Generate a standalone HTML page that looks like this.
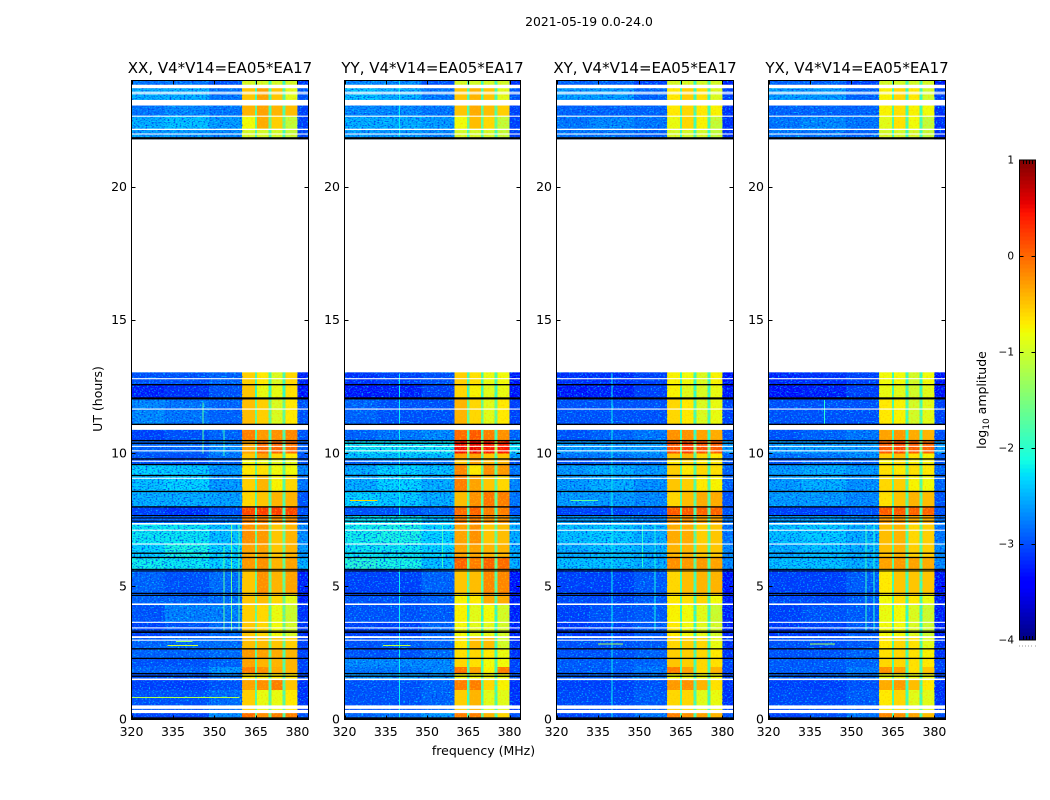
<!DOCTYPE html>
<html>
<head>
<meta charset="utf-8">
<title>2021-05-19 spectrogram</title>
<style>
html,body{margin:0;padding:0;background:#fff;}
#chart{display:block;width:1050px;height:800px;}
text{font-family:"DejaVu Sans","Liberation Sans",sans-serif;fill:#000;}
</style>
</head>
<body>
<svg id="chart" xmlns="http://www.w3.org/2000/svg" width="1050" height="800" viewBox="0 0 1050 800">
<defs>
<filter id="speckle-dark" x="0" y="0" width="1" height="1">
<feTurbulence type="fractalNoise" baseFrequency="0.5 0.75" numOctaves="1" seed="4"/>
<feColorMatrix type="matrix" values="0 0 0 0 0  0 0 0 0 0.05  0 0 0 0 0.85  0 0 0 3.4 -1.6"/>
</filter>
<filter id="speckle-light" x="0" y="0" width="1" height="1">
<feTurbulence type="fractalNoise" baseFrequency="0.55 0.8" numOctaves="1" seed="11"/>
<feColorMatrix type="matrix" values="0 0 0 0 0  0 0 0 0 0.85  0 0 0 0 1  0 0 0 3 -1.55"/>
</filter>
<filter id="speckle-hot" x="0" y="0" width="1" height="1">
<feTurbulence type="fractalNoise" baseFrequency="0.6 0.6" numOctaves="1" seed="7"/>
<feColorMatrix type="matrix" values="0 0 0 0 1  0 0 0 0 0.55  0 0 0 0 0  0 0 0 2 -1"/>
</filter>
</defs>
<text x="589" y="26" font-size="12.4" text-anchor="middle">2021-05-19 0.0-24.0</text>
<text x="483.5" y="755" font-size="12.5" text-anchor="middle">frequency (MHz)</text>
<text transform="translate(102,399) rotate(-90)" font-size="12.5" text-anchor="middle">UT (hours)</text>
<text transform="translate(986,400) rotate(-90)" font-size="12.5" text-anchor="middle">log<tspan font-size="9" dy="3">10</tspan><tspan dy="-3"> amplitude</tspan></text>
<g id="panels"></g>
<g id="colorbar"></g>
</svg>
<script>
// Axis ticks
const xTicks = [320, 335, 350, 365, 380];
const yTicks = [0, 5, 10, 15, 20];
const colorTicks = [1, 0, -1, -2, -3, -4];
const colorTickLabels = ['1', '0', '\u22121', '\u22122', '\u22123', '\u22124'];
const panelTitles = ['XX, V4*V14=EA05*EA17', 'YY, V4*V14=EA05*EA17', 'XY, V4*V14=EA05*EA17', 'YX, V4*V14=EA05*EA17'];

// Frequency column edges (MHz)
const freqEdges = [320, 332, 348, 360, 364.6, 365.4, 369.6, 370.6, 374.6, 375.6, 380, 384];

// Top of each time band (UT hours); each band runs down to the next entry
const bandTops = [24, 23.71, 23.06, 22.66, 22.19, 13.04, 12.58, 12.06, 10.88, 10.47, 10, 9.79, 9.58, 9.17, 8.57, 7.99, 7.66, 7.35, 6.59, 6.09, 5.64, 4.7, 4.33, 3.65, 3.1, 2.66, 2.3, 1.98, 1.73, 1.51, 1.1, 0.25];

// log10 amplitude per band: low1, low2, low3, hot1, hot2, hot3, hot4, notch, edge
const xxValues = [
[-2.8,-2.8,-3,-1,-1,-1,-1,-2,-3.2],[-2.5,-2.5,-2.8,-.5,-.3,-.5,-.9,-1.9,-3],[-2.8,-2.7,-2.8,-.4,-.3,-.4,-.45,-1.8,-3.1],[-2.5,-2.4,-2.6,-.8,-.35,-.55,-1.1,-1.7,-3.1],
[-2.6,-2.6,-2.7,-1,-1,-1,-1.1,-1.9,-3.1],[-3,-3,-2.9,-.55,-.7,-.95,-.6,-1.9,-3.3],[-3.3,-3.2,-3,-.5,-.85,-.85,-.65,-2,-3.4],[-2.7,-2.8,-2.9,-.45,-.55,-.95,-.7,-1.7,-3],
[-3.1,-3,-2.9,-.1,-.25,-.2,-.15,-1.9,-3],[-2.9,-2.9,-2.7,-.3,0,.05,0,-1.9,-2.9],[-3,-3,-2.8,-.5,-.3,-.6,-.7,-1.9,-3],[-3,-3,-2.9,-.8,-.85,-.9,-.9,-2,-3],
[-2.3,-2.35,-2.6,-.7,-.65,-.8,-.8,-1.7,-2.7],[-2.4,-2.3,-2.6,-.55,-.4,-.75,-.6,-1.8,-2.8],[-2.5,-2.5,-2.55,-.6,-.5,-.4,-.4,-1.8,-3],[-3.1,-3.2,-3,.2,.25,.25,.2,-1.9,-3],
[-2.9,-2.9,-2.8,-.1,-.1,-.2,-.2,-1.9,-2.9],[-2.2,-2.2,-2.4,-.2,-.25,-.5,-.4,-1.7,-2.7],[-2.3,-2.1,-2.3,-.3,-.3,-.5,-.4,-1.7,-2.6],[-2.15,-2.2,-2.3,-.25,-.2,-.4,-.3,-1.7,-2.5],
[-2.9,-3,-2.85,-.5,-.2,-.4,-.3,-1.7,-3.3],[-2.9,-2.9,-2.85,-.5,-.45,-.6,-.9,-1.7,-3.3],[-3,-2.75,-2.75,-.55,-.6,-.85,-1.05,-1.7,-3.2],[-3.1,-3,-2.85,-.5,-.6,-.8,-1,-1.7,-3.2],
[-2.9,-2.85,-2.85,-.45,-.45,-.5,-.55,-1.7,-3.1],[-2.9,-2.9,-2.85,-.25,-.3,-.35,-.4,-1.8,-3.1],[-3,-3,-2.9,-.3,-.4,-.4,-.4,-1.8,-3.1],[-2.9,-2.9,-2.65,-.1,-.2,-.35,-.4,-1.8,-3.1],
[-3,-3,-2.8,-.7,-.7,-.7,-.7,-1.8,-3.1],[-3.1,-3.1,-3,-.3,-.2,-.1,-.5,-1.8,-3.2],[-3,-3,-2.85,-.55,-.85,-.85,-.7,-1.8,-3.2],[-3.1,-3.1,-2.7,0,-.2,-.1,-.1,-1.8,-3]];
const yyValues = [
[-2.7,-2.7,-3,-1,-1,-1,-1,-2,-3.2],[-2.4,-2.5,-2.8,-.5,-.4,-.5,-.9,-1.9,-3],[-2.7,-2.7,-2.8,-.5,-.35,-.45,-.55,-1.8,-3.1],[-2.5,-2.5,-2.6,-.8,-.45,-.6,-1.1,-1.7,-3.1],
[-2.6,-2.6,-2.7,-1,-1,-1,-1.1,-1.9,-3.1],[-3.2,-3.1,-3,-.55,-.65,-.85,-.8,-1.9,-3.4],[-3.35,-3.3,-3.1,-.6,-.75,-.9,-.85,-2,-3.4],[-2.9,-3,-3,-.4,-.6,-.9,-.7,-1.7,-3.1],
[-2.9,-2.8,-2.7,0,.1,-.1,-.2,-1.9,-2.9],[-2.2,-2.2,-2.2,.5,.55,.45,.45,-1.3,-2.2],[-2.4,-2.4,-2.4,-.3,-.3,-.5,-.5,-1.8,-2.6],[-2.9,-2.8,-2.8,-.5,-.3,-.4,-.4,-1.9,-3],
[-2.5,-2.3,-2.4,-.15,-.7,-.2,-.25,-1.7,-2.8],[-2.5,-2.3,-2.5,-.1,-.3,-.5,-.6,-1.7,-2.7],[-2.3,-2.35,-2.5,-.45,-.2,-.05,-.1,-1.7,-2.8],[-3,-3,-2.9,0,.05,-.1,-.1,-1.9,-3],
[-2.2,-2.2,-2.4,-.1,-.1,-.2,-.2,-1.8,-2.6],[-2.15,-2.1,-2.3,-.3,-.2,-.5,-.45,-1.7,-2.5],[-2.2,-2.2,-2.3,-.3,-.3,-.4,-.4,-1.7,-2.5],[-2,-2.1,-2.4,.05,-.1,.05,0,-1.7,-2.5],
[-3.1,-3.1,-2.9,-.5,-.45,-.15,-.15,-1.8,-3.4],[-3,-3,-2.9,-.75,-.7,-.35,-.35,-1.9,-3.3],[-3,-3,-2.95,-.75,-.9,-.8,-1,-2,-3.3],[-3.1,-3.1,-2.9,-.8,-.9,-.9,-1,-2,-3.3],
[-3,-2.95,-2.9,-.7,-.45,-.45,-1,-1.9,-3.2],[-3,-3,-2.85,-.65,-.6,-.7,-.85,-1.9,-3.2],[-2.7,-2.7,-2.7,-.6,-.65,-.8,-.8,-1.9,-3.1],[-2.8,-2.8,-2.7,-.05,-.3,-.75,-.1,-1.9,-3.1],
[-2.6,-2.6,-2.6,-.8,-.8,-.8,-.8,-1.9,-3],[-3,-3,-2.9,-.1,-.1,-.6,-.75,-1.9,-3.2],[-3,-3,-2.9,-.55,-.4,-.9,-.9,-1.9,-3.2],[-2.9,-2.8,-2.6,-.1,-.1,-.4,-.6,-1.9,-3]];
const xyValues = [
[-2.9,-2.9,-3.1,-1,-1,-1,-1,-2,-3.3],[-2.6,-2.6,-2.9,-.7,-.55,-.65,-.95,-2,-3.1],[-2.9,-2.9,-2.9,-.7,-.6,-.7,-.75,-1.9,-3.2],[-2.8,-2.7,-2.8,-.85,-.6,-.75,-1.1,-1.9,-3.2],
[-2.8,-2.8,-2.9,-1,-1,-1,-1.1,-2,-3.2],[-3.2,-3.2,-3.1,-.75,-.8,-.95,-.75,-2,-3.4],[-3.35,-3.3,-3.1,-.75,-.9,-.95,-.85,-2,-3.4],[-3,-3,-3,-.6,-.7,-.95,-.85,-1.9,-3.1],
[-3,-2.9,-2.8,-.2,-.2,-.3,-.35,-2,-3],[-2.6,-2.6,-2.6,.15,.25,.15,.1,-1.6,-2.6],[-2.8,-2.8,-2.7,-.5,-.4,-.6,-.7,-1.9,-2.9],[-3,-2.9,-2.9,-.7,-.6,-.7,-.7,-2,-3],
[-2.6,-2.5,-2.6,-.55,-.7,-.6,-.65,-1.8,-2.9],[-2.6,-2.5,-2.65,-.5,-.55,-.7,-.75,-1.8,-2.9],[-2.6,-2.6,-2.7,-.6,-.45,-.35,-.35,-1.8,-3],[-3.1,-3.1,-3,.1,.1,.05,.05,-1.9,-3],
[-2.6,-2.6,-2.7,-.2,-.2,-.3,-.3,-1.9,-2.8],[-2.4,-2.35,-2.5,-.35,-.35,-.55,-.5,-1.8,-2.8],[-2.5,-2.4,-2.5,-.4,-.4,-.5,-.5,-1.8,-2.7],[-2.4,-2.4,-2.5,-.2,-.25,-.25,-.3,-1.8,-2.7],
[-3.1,-3.1,-2.95,-.6,-.45,-.4,-.4,-1.9,-3.4],[-3.05,-3.05,-2.95,-.7,-.65,-.6,-.8,-1.9,-3.3],[-3.1,-3,-2.95,-.75,-.8,-.9,-1.05,-2,-3.3],[-3.15,-3.1,-2.95,-.7,-.8,-.9,-1,-2,-3.3],
[-3,-3,-2.95,-.6,-.55,-.6,-.85,-1.9,-3.2],[-3,-3,-2.9,-.55,-.55,-.6,-.7,-1.9,-3.2],[-2.95,-2.95,-2.9,-.5,-.55,-.6,-.65,-1.9,-3.1],[-2.95,-2.95,-2.8,-.1,-.3,-.6,-.4,-1.9,-3.1],
[-2.9,-2.9,-2.8,-.8,-.8,-.8,-.8,-1.9,-3.1],[-3.1,-3.1,-3,-.25,-.2,-.4,-.65,-1.9,-3.2],[-3.05,-3.05,-2.95,-.6,-.6,-.9,-.85,-1.9,-3.2],[-3.1,-3,-2.8,-.1,-.2,-.3,-.4,-1.9,-3]];
const yxValues = [
[-2.9,-2.9,-3.1,-1,-1,-1,-1,-2,-3.3],[-2.6,-2.6,-2.9,-.75,-.6,-.7,-1,-2,-3.1],[-2.9,-2.9,-2.9,-.75,-.65,-.75,-.8,-1.9,-3.2],[-2.8,-2.7,-2.8,-.9,-.65,-.8,-1.1,-1.9,-3.2],
[-2.8,-2.8,-2.9,-1,-1,-1,-1.1,-2,-3.2],[-3.25,-3.2,-3.1,-.8,-.8,-1,-.8,-2,-3.4],[-3.4,-3.3,-3.1,-.85,-.9,-1,-.9,-2,-3.4],[-3,-3,-3,-.7,-.75,-1,-.9,-1.9,-3.1],
[-3,-2.9,-2.8,-.3,-.25,-.35,-.4,-2,-3],[-2.6,-2.6,-2.6,.1,.2,.1,.05,-1.6,-2.6],[-2.8,-2.8,-2.7,-.55,-.45,-.65,-.75,-1.9,-2.9],[-3,-2.9,-2.9,-.75,-.65,-.75,-.75,-2,-3],
[-2.6,-2.5,-2.6,-.65,-.7,-.65,-.7,-1.8,-2.9],[-2.6,-2.5,-2.65,-.6,-.55,-.75,-.8,-1.8,-2.9],[-2.6,-2.6,-2.7,-.65,-.5,-.4,-.45,-1.8,-3],[-3.1,-3.1,-3,.1,.1,.05,.05,-1.9,-3],
[-2.6,-2.6,-2.7,-.25,-.25,-.35,-.35,-1.9,-2.8],[-2.4,-2.35,-2.5,-.45,-.4,-.6,-.55,-1.8,-2.8],[-2.5,-2.4,-2.5,-.45,-.4,-.55,-.55,-1.8,-2.7],[-2.4,-2.4,-2.5,-.3,-.25,-.3,-.35,-1.8,-2.7],
[-3.1,-3.1,-2.95,-.7,-.5,-.5,-.5,-1.9,-3.4],[-3.05,-3.05,-2.95,-.8,-.65,-.7,-.85,-1.9,-3.3],[-3.1,-3,-2.95,-.85,-.8,-.95,-1.05,-2,-3.3],[-3.15,-3.1,-2.95,-.8,-.8,-.95,-1.05,-2,-3.3],
[-3,-3,-2.95,-.7,-.6,-.65,-.9,-1.9,-3.2],[-3,-3,-2.9,-.65,-.6,-.65,-.75,-1.9,-3.2],[-2.95,-2.95,-2.9,-.6,-.6,-.65,-.7,-1.9,-3.1],[-2.95,-2.95,-2.8,-.2,-.3,-.65,-.5,-1.9,-3.1],
[-2.9,-2.9,-2.8,-.85,-.85,-.85,-.85,-1.9,-3.1],[-3.1,-3.1,-3,-.35,-.25,-.45,-.7,-1.9,-3.2],[-3.05,-3.05,-2.95,-.7,-.6,-.9,-.9,-1.9,-3.2],[-3.1,-3,-2.8,-.15,-.2,-.3,-.45,-1.9,-3]];
const panelValues = [xxValues, yyValues, xyValues, yxValues];

// Narrow channel interference: [MHz, start UT, end UT, log10 amplitude]
const xxChannelSpurs = [[345.6,10,11.9,-1.7],[353.3,3.3,6.5,-1.7],[356,3.3,7.3,-1.6],[358.7,3.3,7.3,-1.7],[353.3,9.9,10.9,-1.9]];
const yyChannelSpurs = [[339.8,0,13,-2.2],[339.8,21.9,24,-2.2],[355.5,5.7,7.3,-1.9]];
const xyChannelSpurs = [[339.8,0,13,-2.2],[351,5.7,7.3,-2],[355.5,3.3,7.3,-2.1]];
const yxChannelSpurs = [[340,10.9,12,-2],[355,3.3,7.3,-1.9],[358,3.3,7.3,-2]];
const panelChannelSpurs = [xxChannelSpurs, yyChannelSpurs, xyChannelSpurs, yxChannelSpurs];

// Horizontal tones: [UT, start MHz, end MHz, log10 amplitude]
const xxToneSpurs = [[2.8,333,344,-1],[2.95,336,342,-1.4],[0.85,320,359,-1.2]];
const yyToneSpurs = [[2.8,334,344,-1.1],[8.25,322,332,-0.6]];
const xyToneSpurs = [[2.85,335,344,-1.2],[8.25,325,335,-1.7]];
const yxToneSpurs = [[2.85,335,344,-1.2]];
const panelToneSpurs = [xxToneSpurs, yyToneSpurs, xyToneSpurs, yxToneSpurs];

// Flagged (black) time ranges, UT hours
const flaggedStart = [21.87,12.6,12.1,11.11,10.5,10.4,9.81,9.6,9.19,8.59,8.01,7.68,7.59,7.47,6.27,6.11,5.66,5.6,4.76,4.68,3.34,3.29,2.68,2.32,1.75,1.65,0.08];
const flaggedEnd = [21.79,12.55,12.02,11.06,10.45,10.35,9.76,9.55,9.14,8.54,7.96,7.64,7.55,7.43,6.22,6.06,5.62,5.56,4.71,4.64,3.3,3.25,2.63,2.27,1.7,1.6,0.02];

// No-data (white) time ranges, UT hours
const blankStart = [23.84,23.58,23.52,23.27,22.68,22.19,22.01,21.79,12.82,11.68,11.07,10.28,10.11,9.72,9.08,7.38,7.13,6.61,4.36,3.67,3.46,3.13,3,1.54,0.53,0.36];
const blankEnd = [23.71,23.54,23.48,23.06,22.64,22.14,21.97,13.04,12.78,11.64,10.88,10.24,10.07,9.68,9.04,7.32,7.09,6.57,4.3,3.63,3.42,3.06,2.96,1.48,0.4,0.24];

const xDomain = [320, 384];
const yDomain = [0, 24];
const colorDomain = [-4, 1];

const SVG_NS = 'http://www.w3.org/2000/svg';
const panelLefts = [131.5, 344.5, 556.5, 768.5];
const panelRights = [308.5, 520.5, 733.5, 945.5];
const plotTop = 80.5;
const plotBottom = 719.5;
const barLeft = 1019.5, barRight = 1035.5, barTop = 160, barBottom = 640;

function make(parent, tag, attrs, text) {
  const el = document.createElementNS(SVG_NS, tag);
  for (const k in attrs) el.setAttribute(k, attrs[k]);
  if (text !== undefined) el.textContent = text;
  parent.appendChild(el);
  return el;
}
function ramp(t, pts) {
  for (let i = 1; i < pts.length; i++) {
    if (t <= pts[i][0]) {
      const p = pts[i - 1], q = pts[i];
      return p[1] + (q[1] - p[1]) * (t - p[0]) / (q[0] - p[0]);
    }
  }
  return pts[pts.length - 1][1];
}
function jet(v) {
  const t = Math.max(0, Math.min(1, (v - colorDomain[0]) / (colorDomain[1] - colorDomain[0])));
  const r = ramp(t, [[0,0],[.35,0],[.66,1],[.89,1],[1,.5]]);
  const g = ramp(t, [[0,0],[.125,0],[.375,1],[.64,1],[.91,0],[1,0]]);
  const b = ramp(t, [[0,.5],[.11,1],[.34,1],[.65,0],[1,0]]);
  return 'rgb(' + Math.round(r * 255) + ',' + Math.round(g * 255) + ',' + Math.round(b * 255) + ')';
}
function yScale(t) {
  return plotBottom + (plotTop - plotBottom) * (t - yDomain[0]) / (yDomain[1] - yDomain[0]);
}
function xScaleFor(p) {
  return function (f) {
    return panelLefts[p] + (panelRights[p] - panelLefts[p]) * (f - xDomain[0]) / (xDomain[1] - xDomain[0]);
  };
}
// Maps the nine per-band values onto the eleven frequency columns
const columnSource = [0, 1, 2, 3, 7, 4, 7, 5, 7, 6, 8];

const panelsRoot = document.getElementById('panels');
panelTitles.forEach(function (title, p) {
  const x = xScaleFor(p);
  const group = make(panelsRoot, 'g', {});
  
  

  const values = panelValues[p];
  bandTops.forEach(function (top, b) {
    const bottom = b + 1 < bandTops.length ? bandTops[b + 1] : 0;
    for (let c = 0; c < columnSource.length; c++) {
      const x0 = x(freqEdges[c]), x1 = x(freqEdges[c + 1]);
      const cell = make(group, 'rect', {x: x0, y: yScale(top), width: x1 - x0, height: yScale(bottom) - yScale(top), fill: jet(values[b][columnSource[c]]), 'shape-rendering': 'crispEdges'});
      
      
    }
  });

  [[320, 360], [380, 384]].forEach(function (range) {
    ['speckle-light', 'speckle-dark'].forEach(function (filterId) {
      const speck = make(group, 'rect', {x: x(range[0]), y: plotTop, width: x(range[1]) - x(range[0]), height: plotBottom - plotTop, filter: 'url(#' + filterId + ')'});
      
      
    });
  });
  const hotSpeck = make(group, 'rect', {x: x(360), y: plotTop, width: x(380) - x(360), height: plotBottom - plotTop, filter: 'url(#speckle-hot)'});
  
  

  panelChannelSpurs[p].forEach(function (s) {
    const spur = make(group, 'rect', {x: x(s[0]), y: yScale(s[2]), width: 1, height: yScale(s[1]) - yScale(s[2]), fill: jet(s[3]), 'shape-rendering': 'crispEdges'});
    
    
  });
  panelToneSpurs[p].forEach(function (s) {
    const tone = make(group, 'rect', {x: x(s[1]), y: yScale(s[0]), width: x(s[2]) - x(s[1]), height: 1, fill: jet(s[3]), 'shape-rendering': 'crispEdges'});
    
    
  });

  const left = panelLefts[p], right = panelRights[p], w = right - left;
  blankStart.forEach(function (s, i) {
    const gap = make(group, 'rect', {x: left, y: yScale(s), width: w, height: yScale(blankEnd[i]) - yScale(s), fill: '#fff'});
    
    
  });
  flaggedStart.forEach(function (s, i) {
    const flag = make(group, 'rect', {x: left, y: yScale(s), width: w, height: yScale(flaggedEnd[i]) - yScale(s), fill: '#000'});
    
    
  });

  const frame = make(group, 'rect', {x: left, y: plotTop, width: w, height: plotBottom - plotTop, fill: 'none', stroke: '#000', 'stroke-width': 1});
  
  

  xTicks.forEach(function (f) {
    const px = Math.round(x(f)) + 0.5;
    const tickBottom = make(group, 'line', {x1: px, x2: px, y1: plotBottom, y2: plotBottom - 4, stroke: '#000'});
    
    
    const tickTop = make(group, 'line', {x1: px, x2: px, y1: plotTop, y2: plotTop + 4, stroke: '#000'});
    
    
    const label = make(group, 'text', {x: x(f), y: 736, 'font-size': 12.5, 'text-anchor': 'middle'}, String(f));
    
    
  });
  yTicks.forEach(function (t) {
    const py = Math.round(yScale(t) - 0.5) + 0.5;
    const tickLeft = make(group, 'line', {x1: left, x2: left + 4, y1: py, y2: py, stroke: '#000'});
    
    
    const tickRight = make(group, 'line', {x1: right, x2: right - 4, y1: py, y2: py, stroke: '#000'});
    
    
    const label = make(group, 'text', {x: left - 4.5, y: yScale(t) + 4, 'font-size': 12.5, 'text-anchor': 'end'}, String(t));
    
    
  });
  const titleEl = make(group, 'text', {x: (left + right) / 2, y: 73, 'font-size': 15, 'text-anchor': 'middle'}, title);
  
  
});

// Colorbar
const barRoot = document.getElementById('colorbar');
function barY(v) {
  return barBottom + (barTop - barBottom) * (v - colorDomain[0]) / (colorDomain[1] - colorDomain[0]);
}
const barSteps = 120;
for (let i = 0; i < barSteps; i++) {
  const v0 = colorDomain[0] + (colorDomain[1] - colorDomain[0]) * i / barSteps;
  const v1 = colorDomain[0] + (colorDomain[1] - colorDomain[0]) * (i + 1) / barSteps;
  const seg = make(barRoot, 'rect', {x: barLeft, y: barY(v1), width: barRight - barLeft, height: barY(v0) - barY(v1) + 0.5, fill: jet((v0 + v1) / 2), 'shape-rendering': 'crispEdges'});
  
  
}
const barFrame = make(barRoot, 'rect', {x: barLeft, y: barTop, width: barRight - barLeft, height: barBottom - barTop, fill: 'none', stroke: '#000'});


colorTicks.forEach(function (v, i) {
  const y = Math.round(barY(v)) + 0.5;
  if (v !== colorDomain[0] && v !== colorDomain[1]) {
    const tickA = make(barRoot, 'line', {x1: barLeft, x2: barLeft + 4, y1: y, y2: y, stroke: '#000'});
    
    
    const tickB = make(barRoot, 'line', {x1: barRight, x2: barRight - 4, y1: y, y2: y, stroke: '#000'});
    
    
  }
  const label = make(barRoot, 'text', {x: 1014, y: barY(v) + 3.5, 'font-size': 10.5, 'text-anchor': 'end'}, colorTickLabels[i]);
  
  
});
for (let k = 1; k < 5; k++) {
  const px = Math.round(barLeft + (barRight - barLeft) * k / 5) + 0.5;
  const topMark = make(barRoot, 'line', {x1: px, x2: px, y1: barTop, y2: barTop + 4, stroke: '#000'});
  
  
  const bottomMark = make(barRoot, 'line', {x1: px, x2: px, y1: barBottom, y2: barBottom - 4, stroke: '#000'});
  
  
}
for (let k = 0; k <= 5; k++) {
  const px = Math.round(barLeft + (barRight - barLeft) * k / 5) + 0.5;
  const dot = make(barRoot, 'rect', {x: px - 1.5, y: 645.5, width: 1, height: 1, fill: '#999'});
  
  
}
</script>
</body>
</html>
